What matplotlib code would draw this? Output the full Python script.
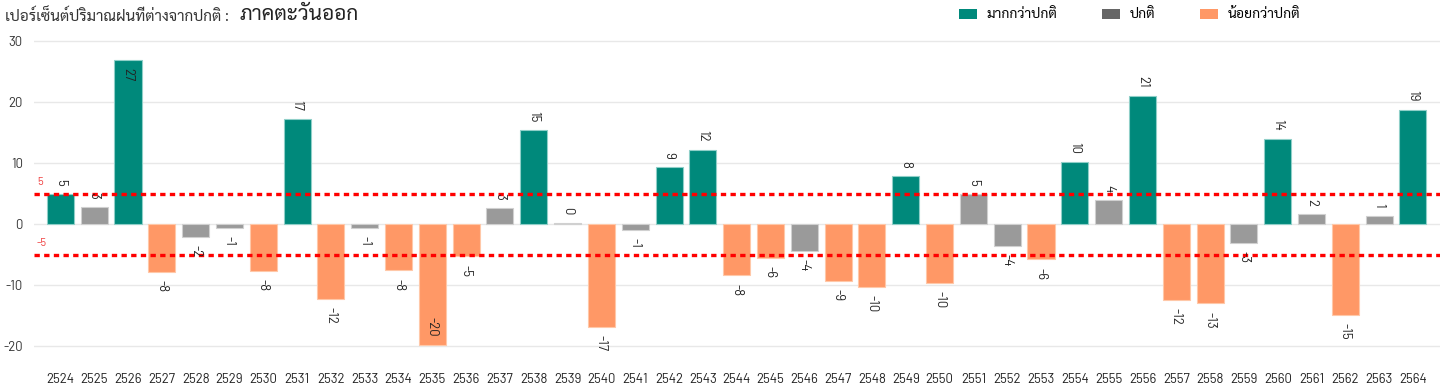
import matplotlib
matplotlib.use("Agg")
import matplotlib.pyplot as plt
from matplotlib.patches import Patch

# ข้อมูลเปอร์เซ็นต์ฝนต่างจากปกติ ภาคตะวันออก
years = [str(y) for y in range(2524, 2565)]
values = [5.0, 2.8, 27.0, -7.9, -2.1, -0.6, -7.7, 17.2, -12.3, -0.6,
          -7.6, -19.8, -5.3, 2.6, 15.4, 0.2, -16.9, -0.9, 9.4, 12.1,
          -8.4, -5.6, -4.4, -9.3, -10.3, 7.9, -9.7, 4.9, -3.6, -5.8,
          10.2, 3.9, 21.0, -12.4, -13.0, -3.1, 14.0, 1.6, -14.9, 1.4,
          18.7]
# 1 = มากกว่าปกติ, 0 = ปกติ, -1 = น้อยกว่าปกติ
category = [1, 0, 1, -1, 0, 0, -1, 1, -1, 0,
            -1, -1, -1, 0, 1, 0, -1, 0, 1, 1,
            -1, -1, 0, -1, -1, 1, -1, 0, 0, -1,
            1, 0, 1, -1, -1, 0, 1, 0, -1, 0,
            1]
legend_labels = ["มากกว่าปกติ", "ปกติ", "น้อยกว่าปกติ"]
thresholds = [5, -5]

thai = ["Sarabun", "Noto Sans Thai Looped", "Noto Sans Thai", "DejaVu Sans"]
num = ["Barlow", "Roboto", "DejaVu Sans"]

bar_col = {1: "#00897b", 0: "#9a9a9a", -1: "#ff9866"}
edge_col = {1: "#8fcfc8", 0: "#d0d0d0", -1: "#ffc8a8"}
leg_col = ["#00897b", "#666666", "#ff9866"]

fig = plt.figure(figsize=(14.44, 3.89), dpi=100)
ax = fig.add_axes([34 / 1444, 0.0483, 1406 / 1444, 0.8532])

x = list(range(len(years)))
ax.bar(x, values, width=0.8,
       color=[bar_col[c] for c in category],
       edgecolor=[edge_col[c] for c in category], linewidth=0.8, zorder=2)

ax.set_xlim(-0.78, 40.8)
ax.set_ylim(-24, 30.5)
ax.set_yticks([-20, -10, 0, 10, 20, 30])
ax.set_yticklabels(["-20", "-10", "0", "10", "20", "30"], family=num, fontsize=9.5, color="#333333")
ax.set_xticks(x)
ax.set_xticklabels(years, family=num, fontsize=9.5, color="#222222")
ax.tick_params(axis="both", length=0)
ax.tick_params(axis="y", pad=8)
ax.tick_params(axis="x", pad=2)
ax.grid(axis="y", color="#e8e8e8", linewidth=1, zorder=0)
for s in ax.spines.values():
    s.set_visible(False)

# ค่าบนแท่ง
for xi, v in zip(x, values):
    lab = f"{v:.0f}"
    if v >= 0:
        if v > 24:
            ax.annotate(lab, (xi, v), xytext=(0, -6), textcoords="offset points",
                        rotation=270, ha="center", va="top", fontsize=9.5,
                        family=num, color="#222222", zorder=4)
        else:
            ax.annotate(lab, (xi, v), xytext=(0, 6), textcoords="offset points",
                        rotation=270, ha="center", va="bottom", fontsize=9.5,
                        family=num, color="#222222", zorder=4)
    else:
        if v < -18:
            ax.annotate(lab, (xi, v), xytext=(0, 6), textcoords="offset points",
                        rotation=270, ha="center", va="bottom", fontsize=9.5,
                        family=num, color="#222222", zorder=4)
        else:
            ax.annotate(lab, (xi, v), xytext=(0, -6), textcoords="offset points",
                        rotation=270, ha="center", va="top", fontsize=9.5,
                        family=num, color="#222222", zorder=4)

# เส้นเกณฑ์ +-5
for t in thresholds:
    ax.axhline(t, color="#ff0000", linewidth=2.4, dashes=(1.6, 1.3), zorder=3)
    ax.annotate(str(t), (-0.78, t), xytext=(2, 5), textcoords="offset points",
                ha="left", va="bottom", fontsize=8, family=num, color="#f04040")

# หัวเรื่อง
fig.text(5 / 1444, 1 - 16 / 389, "เปอร์เซ็นต์ปริมาณฝนที่ต่างจากปกติ : ", family=thai,
         fontsize=11, color="#333333", va="center", ha="left")
fig.text(240 / 1444, 1 - 15 / 389, "ภาคตะวันออก", family=thai,
         fontsize=15, color="#222222", va="center", ha="left")

handles = [Patch(facecolor=c, edgecolor="none") for c in leg_col]
fig.legend(handles, legend_labels, loc="center left", bbox_to_anchor=(959 / 1444, 1 - 15 / 389),
           ncol=3, frameon=False, prop={"family": thai, "size": 10},
           handlelength=1.3, handleheight=0.7, handletextpad=0.7, columnspacing=3.2,
           borderaxespad=0, borderpad=0)

fig.savefig("out.png", dpi=100)
